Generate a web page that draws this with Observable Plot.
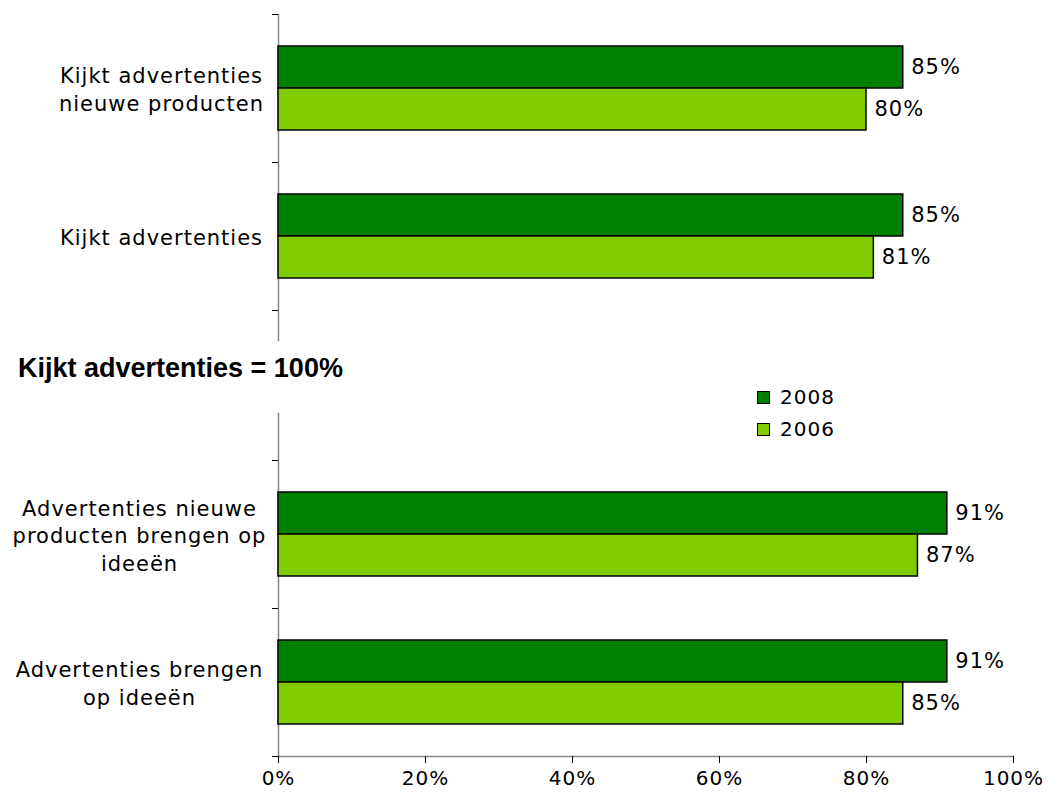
<!DOCTYPE html>
<html>
<head>
<meta charset="utf-8">
<script src="https://cdn.jsdelivr.net/npm/d3@7"></script>
<script src="https://cdn.jsdelivr.net/npm/@observablehq/plot@0.6"></script>
<style>
  html, body { margin: 0; padding: 0; background: #fff; }
  #wrap { position: relative; width: 1048px; height: 798px; background: #fff; overflow: hidden; }
  #top, #bottom { position: absolute; left: 0; }
  #top { top: 0; }
  #bottom { top: 345px; }
  #title { position: absolute; left: 18px; top: 355px; font-family: "Liberation Sans", Arial, sans-serif; font-weight: bold; font-size: 27px; line-height: 27px; color: #000; white-space: nowrap; }
  #legend { position: absolute; left: 757px; top: 387px; font-family: "DejaVu Sans", sans-serif; font-size: 20px; letter-spacing: 1px; color: #000; }
  .row { display: flex; align-items: center; height: 20px; margin-bottom: 12px; }
  .sw { width: 11px; height: 11px; border: 1px solid #000; margin-right: 10px; }
</style>
</head>
<body>
<div id="wrap">
  <div id="top"></div>
  <div id="title"></div>
  <div id="legend"></div>
  <div id="bottom"></div>
</div>
<script>
// ---- data ----
const years = ["2008", "2006"];
const yearColors = ["#007F00", "#80CC00"];
const topCategories = ["Kijkt advertenties\nnieuwe producten", "Kijkt advertenties"];
const top2008 = [85, 85];
const top2006 = [80, 81];
const bottomTitle = "Kijkt advertenties = 100%";
const bottomCategories = ["Advertenties nieuwe\nproducten brengen op\nideeën", "Advertenties brengen\nop ideeën"];
const bottom2008 = [91, 91];
const bottom2006 = [87, 85];
const xTicks = [0, 20, 40, 60, 80, 100];

const FONT = "DejaVu Sans";
const FS = 21;

function rows(cats, vals) { return cats.map((c, i) => ({cat: c, value: vals[i]})); }

function panel({cats, v2008, v2006, height, marginTop, marginBottom, yRange, labelDx, xAxis}) {
  const d08 = rows(cats, v2008);
  const d06 = rows(cats, v2006);
  const half = (yRange[1] - yRange[0]) / cats.length / 2;
  const marks = [
    Plot.frame({anchor: "left", stroke: "#868686", strokeWidth: 1.5}),
    Plot.ruleY(cats, {y: d => d, dy: -half, x1: 0, x2: 0, insetLeft: -6, stroke: "#000", strokeWidth: 1}),
    Plot.ruleY(cats.slice(-1), {y: d => d, dy: half, x1: 0, x2: 0, insetLeft: -6, stroke: "#000", strokeWidth: 1}),
    Plot.barX(d08, {x1: 0, x2: "value", y: "cat", insetBottom: 42, fill: yearColors[0], stroke: "#000", strokeWidth: 1.5}),
    Plot.barX(d06, {x1: 0, x2: "value", y: "cat", insetTop: 42, fill: yearColors[1], stroke: "#000", strokeWidth: 1.5}),
    Plot.text(d08, {x: "value", y: "cat", text: d => d.value + "%", dx: 8, dy: -21, textAnchor: "start", fontSize: FS, fontFamily: FONT, fill: "#000"}),
    Plot.text(d06, {x: "value", y: "cat", text: d => d.value + "%", dx: 8, dy: 21, textAnchor: "start", fontSize: FS, fontFamily: FONT, fill: "#000"}),
    Plot.text(cats, {y: d => d, text: d => d, frameAnchor: "left", dx: labelDx, textAnchor: "middle", lineHeight: 1.33, fontSize: FS, fontFamily: FONT, fill: "#000"})
  ];
  if (xAxis) {
    marks.push(Plot.frame({anchor: "bottom", stroke: "#868686", strokeWidth: 1.5}));
    marks.push(Plot.axisX(xTicks, {tickSize: 7, tickPadding: 7, tickFormat: d => d + "%", fontSize: 20, fontFamily: FONT, stroke: "#000", label: null}));
  }
  return Plot.plot({
    width: 1048,
    height,
    marginLeft: 278,
    marginRight: 35,
    marginTop,
    marginBottom,
    style: {fontFamily: FONT, fontSize: FS + "px", letterSpacing: "1px", background: "transparent", overflow: "visible"},
    x: {domain: [0, 100], axis: null},
    y: {type: "band", domain: cats, range: yRange, paddingInner: 0.4324, paddingOuter: 0.2162, axis: null},
    marks
  });
}

document.getElementById("top").append(panel({
  cats: topCategories, v2008: top2008, v2006: top2006,
  height: 345, marginTop: 14, marginBottom: 5, yRange: [14, 310], labelDx: -117, xAxis: false
}));

document.getElementById("title").textContent = bottomTitle;

const legend = document.getElementById("legend");
years.forEach((y, i) => {
  const r = document.createElement("div");
  r.className = "row";
  const s = document.createElement("div");
  s.className = "sw";
  s.style.background = yearColors[i];
  const t = document.createElement("span");
  t.textContent = y;
  r.append(s, t);
  legend.append(r);
});

document.getElementById("bottom").append(panel({
  cats: bottomCategories, v2008: bottom2008, v2006: bottom2006,
  height: 453, marginTop: 68, marginBottom: 42, yRange: [115, 411], labelDx: -139, xAxis: true
}));
</script>
</body>
</html>
